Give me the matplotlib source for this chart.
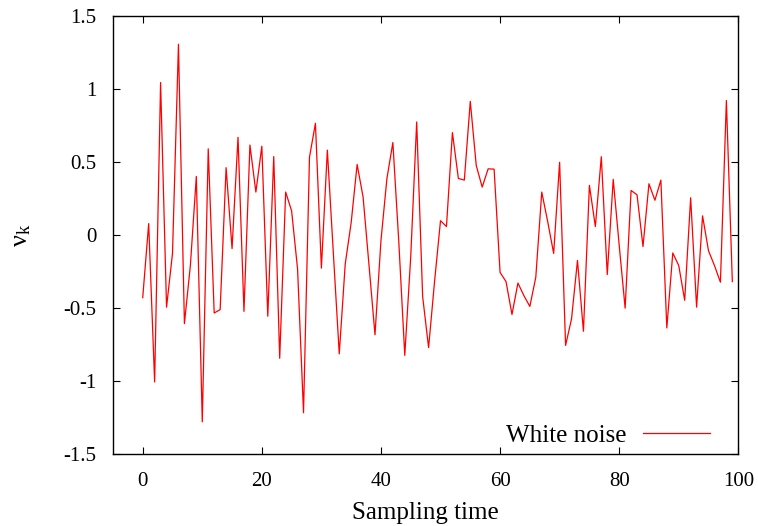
import numpy as np
import matplotlib
matplotlib.use("Agg")
import matplotlib.pyplot as plt
from matplotlib.ticker import FuncFormatter

plt.rcParams['font.family'] = ['Liberation Serif', 'DejaVu Serif']
plt.rcParams['mathtext.fontset'] = 'custom'
plt.rcParams['mathtext.rm'] = 'Liberation Serif'
plt.rcParams['mathtext.it'] = 'Liberation Serif:italic'
plt.rcParams['axes.unicode_minus'] = False

# sampling instants and noise values
k = np.arange(100)
v = [-0.43, 0.077, -1.007, 1.043, -0.495, -0.127, 1.305, -0.608, -0.21, 0.40,
     -1.28, 0.589, -0.535, -0.512, 0.46, -0.094, 0.668, -0.524, 0.615, 0.293,
     0.607, -0.557, 0.536, -0.845, 0.293, 0.164, -0.234, -1.218, 0.532, 0.764,
     -0.228, 0.58, -0.12, -0.815, -0.2, 0.084, 0.482, 0.26, -0.21, -0.684,
     -0.04, 0.385, 0.632, -0.05, -0.825, -0.15, 0.773, -0.422, -0.772, -0.32,
     0.097, 0.057, 0.70, 0.386, 0.375, 0.914, 0.475, 0.327, 0.452, 0.45,
     -0.257, -0.32, -0.545, -0.33, -0.416, -0.49, -0.29, 0.293, 0.09, -0.127,
     0.497, -0.757, -0.575, -0.175, -0.66, 0.339, 0.057, 0.535, -0.272, 0.38,
     -0.07, -0.502, 0.304, 0.274, -0.08, 0.35, 0.237, 0.375, -0.637, -0.124,
     -0.21, -0.448, 0.254, -0.495, 0.13, -0.109, -0.21, -0.324, 0.92, -0.32]

xticks = [0, 20, 40, 60, 80, 100]
yticks = [-1.5, -1, -0.5, 0, 0.5, 1, 1.5]

fig = plt.figure(figsize=(7.58, 5.26), dpi=100)
ax = fig.add_axes([0.149, 0.137, 0.825, 0.833])

ax.plot(k, v, color='red', linewidth=0.9, label='White noise')

ax.set_xlim(-5, 100)
ax.set_ylim(-1.5, 1.5)
ax.set_xticks(xticks)
ax.set_yticks(yticks)
ax.yaxis.set_major_formatter(FuncFormatter(lambda y, p: '%g' % y))
ax.tick_params(direction='in', top=True, right=True, length=5, width=0.8,
               labelsize=15)
ax.tick_params(axis='x', pad=13)
ax.tick_params(axis='y', pad=12)
for s in ax.spines.values():
    s.set_linewidth(1.0)

ax.set_xlabel('Sampling time', fontsize=18, labelpad=8)
ax.set_ylabel(r'$\mathrm{\nu}_{\mathrm{k}}$', fontsize=19, labelpad=22)

ax.legend(loc='center right', frameon=False, markerfirst=False, fontsize=18,
          handlelength=2.7, handletextpad=0.65, borderpad=0, borderaxespad=0,
          bbox_to_anchor=(0.955, 0.041))

fig.savefig('out.png', dpi=100)
